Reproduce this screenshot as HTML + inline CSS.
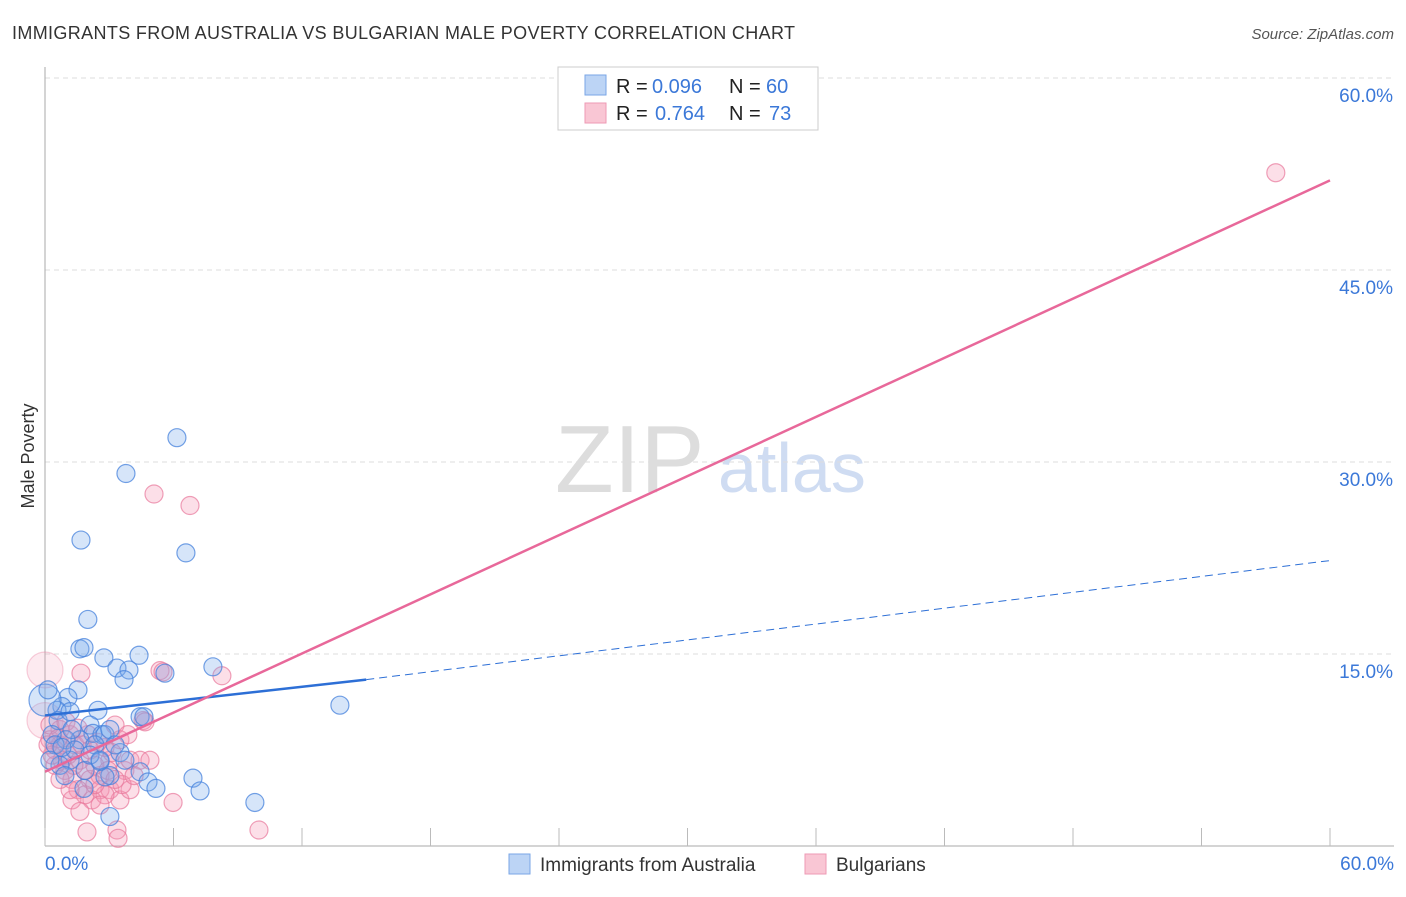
<!DOCTYPE html>
<html><head><meta charset="utf-8"><style>
body{margin:0;background:#fff;font-family:"Liberation Sans",sans-serif;}
svg text{font-family:"Liberation Sans",sans-serif;}
</style></head><body>
<svg width="1406" height="892" viewBox="0 0 1406 892">
<text x="12" y="39" font-size="18" fill="#333" textLength="783" lengthAdjust="spacing">IMMIGRANTS FROM AUSTRALIA VS BULGARIAN MALE POVERTY CORRELATION CHART</text>
<text x="1394" y="39" font-size="15" fill="#555" font-style="italic" text-anchor="end">Source: ZipAtlas.com</text>
<text x="0" y="0" transform="translate(34,456) rotate(-90)" font-size="18" fill="#333" text-anchor="middle">Male Poverty</text>
<g><text x="555" y="492" font-size="96" fill="#ddd" font-family="Liberation Serif">ZIP</text><text x="718" y="492" font-size="70" fill="#cfdcf2">atlas</text></g>
<g id="grid"></g>
<g id="axes"></g>
<g id="pts"></g>
<g id="lines"></g>
<g>
<rect x="558" y="67" width="260" height="63" fill="#fff" stroke="#ccc"/>
<rect x="585" y="75" width="21" height="20" fill="#bcd4f5" stroke="#7aa6e6"/>
<rect x="585" y="103" width="21" height="20" fill="#f9c6d4" stroke="#ee9ab4"/>
<text x="616" y="93" font-size="20" fill="#222">R =</text>
<text x="652" y="93" font-size="20" fill="#3b78d8">0.096</text>
<text x="729" y="93" font-size="20" fill="#222">N =</text>
<text x="766" y="93" font-size="20" fill="#3b78d8">60</text>
<text x="616" y="120" font-size="20" fill="#222">R =</text>
<text x="655" y="120" font-size="20" fill="#3b78d8">0.764</text>
<text x="729" y="120" font-size="20" fill="#222">N =</text>
<text x="769" y="120" font-size="20" fill="#3b78d8">73</text>
</g>
<g>
<rect x="509" y="854" width="21" height="20" fill="#bcd4f5" stroke="#7aa6e6"/>
<text x="540" y="871" font-size="19" fill="#333">Immigrants from Australia</text>
<rect x="805" y="854" width="21" height="20" fill="#f9c6d4" stroke="#ee9ab4"/>
<text x="836" y="871" font-size="19" fill="#333">Bulgarians</text>
</g>
</svg>
<script>
const blueX=[6.16,3.78,1.68,6.58,2.0,1.63,1.82,2.75,4.39,3.36,3.92,3.69,5.6,7.84,1.54,1.07,0.79,0.56,2.47,13.77,4.44,4.62,0,0.14,2.1,2.24,2.66,2.8,1.63,2.33,3.5,0.98,0.61,0.33,1.17,0.7,3.03,4.44,2.8,4.81,5.18,6.91,7.24,1.82,3.03,9.8,0.47,1.4,2.57,1.87,0.79,1.26,3.03,0.23,3.73,0.93,2.1,3.27,1.17,2.57];
const blueY=[31.9,29.1,23.9,22.9,17.7,15.4,15.5,14.7,14.9,13.9,13.75,13.0,13.5,14.0,12.2,11.6,10.9,10.6,10.6,11.0,10.1,10.1,11.4,12.2,9.45,8.8,8.7,8.7,8.3,7.9,7.3,8.3,9.8,8.7,6.7,6.3,5.5,5.8,5.4,5.0,4.5,5.3,4.3,4.5,2.3,3.4,7.9,7.5,6.6,5.9,7.7,9.1,9.1,6.7,6.7,5.5,7.1,7.9,10.5,6.7];
const pinkX=[57.47,5.09,6.77,1.68,5.37,5.51,8.26,0,0,0.23,0.47,0.7,1.17,1.4,1.63,1.87,2.1,2.57,3.03,3.27,3.5,3.73,3.97,4.44,4.9,4.58,4.67,2.57,3.03,3.5,3.36,3.41,1.96,5.98,9.99,0.93,1.26,1.54,2.19,2.8,2.33,0.47,0.7,1.07,1.73,2.0,2.8,3.13,3.97,1.35,0.79,0.23,0.61,0.98,1.54,2.47,2.94,3.6,4.16,1.87,1.26,2.57,3.27,0.33,0.14,2.1,1.17,0.7,2.33,1.63,3.87];
const pinkY=[52.6,27.5,26.6,13.5,13.7,13.6,13.3,13.75,9.8,8.3,7.5,7.9,8.7,7.9,6.7,5.9,5.2,5.5,6.7,9.45,8.3,5.9,6.7,6.7,6.7,9.8,9.7,4.4,4.4,3.6,1.25,0.6,1.1,3.4,1.25,5.9,5.2,4.4,3.6,4.0,6.3,6.3,9.1,7.1,7.9,8.7,7.7,7.3,4.4,6.3,6.7,9.45,8.4,9.7,9.2,8.1,5.9,4.8,5.5,4.0,3.6,3.2,5.2,7.1,7.9,7.5,4.4,5.2,4.8,2.7,8.7];
const bigPink=[7,8];
const yTicks=[15,30,45,60];
const xTickLabels=["0.0%","60.0%"];
const blueTrend=[[0,10.2],[15,13.0],[60,22.3]];
const pinkTrend=[[0,5.8],[60,52.0]];
const sx=v=>45+v*(1285/60), sy=v=>846-v*12.8;
const NS="http://www.w3.org/2000/svg";
function mk(tag,attrs,parent){const e=document.createElementNS(NS,tag);for(const k in attrs)e.setAttribute(k,attrs[k]);document.getElementById(parent).appendChild(e);return e;}
yTicks.forEach(t=>{
 const l=mk('line',{x1:45,x2:1394,y1:sy(t),y2:sy(t),stroke:'#ddd','stroke-dasharray':'5,4'},'grid');
 
 
 const tx=mk('text',{x:1393,y:sy(t)+24,'font-size':19,fill:'#3b78d8','text-anchor':'end'},'grid');tx.textContent=t.toFixed(1)+'%';
 
 
});
const ax=mk('line',{x1:45,x2:1394,y1:846,y2:846,stroke:'#aaa'},'axes');


const ay=mk('line',{x1:45,x2:45,y1:67,y2:846,stroke:'#aaa'},'axes');


for(let i=0;i<=10;i++){const t=mk('line',{x1:sx(i*6),x2:sx(i*6),y1:828,y2:846,stroke:'#bbb'},'axes');
 
 }
const xl0=mk('text',{x:45,y:870,'font-size':19,fill:'#3b78d8'},'axes');xl0.textContent=xTickLabels[0];


const xl1=mk('text',{x:1394,y:870,'font-size':19,fill:'#3b78d8','text-anchor':'end'},'axes');xl1.textContent=xTickLabels[1];


pinkX.forEach((x,i)=>{const big=bigPink.includes(i);const c=mk('circle',{cx:sx(x),cy:sy(pinkY[i]),r:big?18:9,fill:big?'rgba(244,150,180,0.2)':'rgba(244,150,180,0.3)',stroke:big?'rgba(232,120,155,0.35)':'rgba(232,120,155,0.7)','stroke-width':1.2},'pts');
 
 });
blueX.forEach((x,i)=>{const c=mk('circle',{cx:sx(x),cy:sy(blueY[i]),r:i==22?16:9,fill:'rgba(120,170,235,0.3)',stroke:'rgba(70,130,220,0.75)','stroke-width':1.2},'pts');
 
 });
const bs=mk('line',{x1:sx(blueTrend[0][0]),y1:sy(blueTrend[0][1]),x2:sx(blueTrend[1][0]),y2:sy(blueTrend[1][1]),stroke:'#2d6fd6','stroke-width':2.5},'lines');


const bd=mk('line',{x1:sx(blueTrend[1][0]),y1:sy(blueTrend[1][1]),x2:sx(blueTrend[2][0]),y2:sy(blueTrend[2][1]),stroke:'#2d6fd6','stroke-width':1,'stroke-dasharray':'8,5'},'lines');


const pt=mk('line',{x1:sx(pinkTrend[0][0]),y1:sy(pinkTrend[0][1]),x2:sx(pinkTrend[1][0]),y2:sy(pinkTrend[1][1]),stroke:'#e8689a','stroke-width':2.5},'lines');


</script>
</body></html>
